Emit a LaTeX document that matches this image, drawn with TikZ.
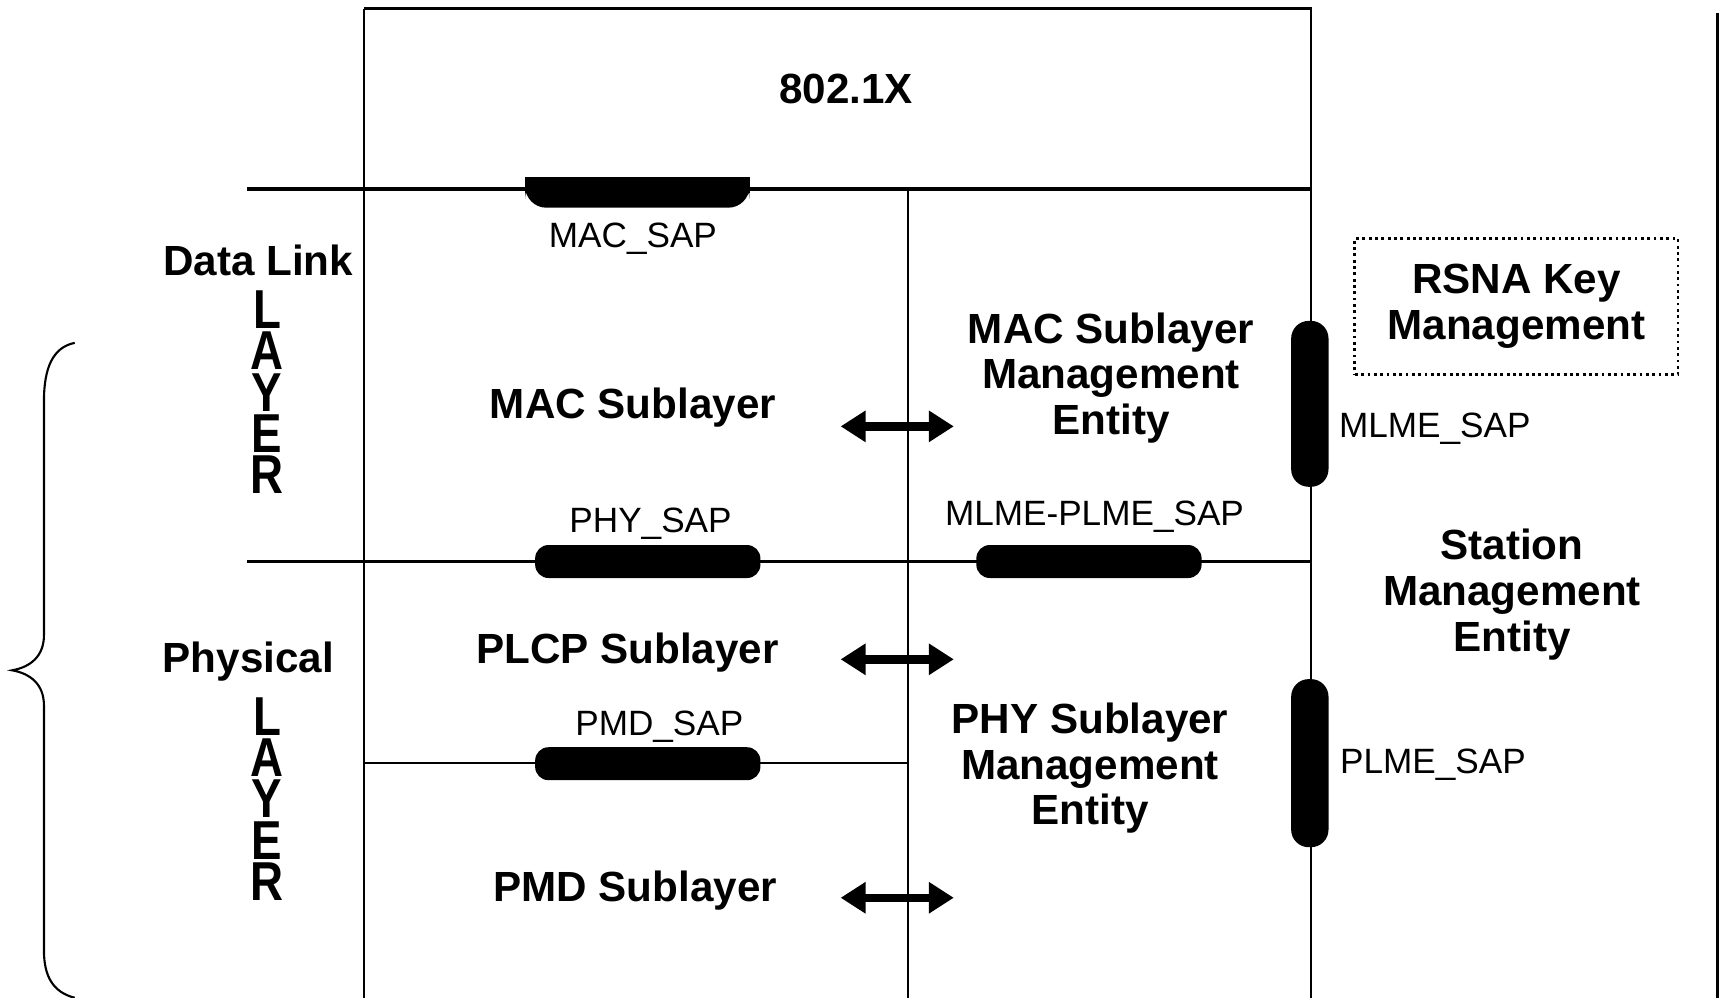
\documentclass[tikz,border=0pt]{standalone}
\usepackage{fontspec}
\setmainfont{Liberation Sans}
\usetikzlibrary{arrows.meta}
\def\upx{0.010989cm}
\begin{document}
\begin{tikzpicture}[x=0.010989cm,y=-0.010989cm,
  ln/.style={line width=0.6pt},
  bfl/.style={font=\bfseries\fontsize{12}{13}\selectfont, inner sep=0pt},
  rgl/.style={font=\fontsize{10}{12}\selectfont, inner sep=0pt},
  pill/.style={fill=black, draw=none, inner sep=0pt},
  hpill/.style={pill, rounded corners=3.8pt, minimum width={205*\upx}, minimum height={30*\upx}},
  vpill/.style={pill, rounded corners=5pt, minimum width={34*\upx}},
  dbl/.style={line width=2.4pt, {Triangle[length=0.25cm,width=0.3cm]}-{Triangle[length=0.25cm,width=0.3cm]}},
  layerlbl/.style={inner sep=0pt},
]
\useasboundingbox (0,0) rectangle (1568,908);
\fill[white] (0,0) rectangle (1568,908);

% frame lines
\draw[line width=0.8pt] (331,8) -- (1193,8) -- (1193,908);
\draw[ln] (331,8) -- (331,908);
\draw[line width=1pt] (225,172) -- (1193,172);
\draw[ln] (826,172) -- (826,908);
\draw[ln] (225,511) -- (1193,511);
\draw[ln] (331,694) -- (826,694);
\draw[ln] (1563,12) -- (1563,908);

% brace
\draw[line width=0.6pt] (68,312) .. controls (48,316) and (40,335) .. (40,365) -- (40,578)
  .. controls (40,597) and (28,607) .. (11,610) .. controls (28,613) and (40,623) .. (40,642)
  -- (40,865) .. controls (40,888) and (48,903) .. (68,908);

% SAP pills
\node[pill, rounded corners=6pt, minimum width={204*\upx}, minimum height={27*\upx}] (macsap) at (580,175.5) {};
\fill (macsap.north west) rectangle (macsap.east);
\node[hpill] (physap) at (589.5,511) {};
\node[hpill] (mlmeplmesap) at (991,511) {};
\node[hpill] (pmdsap) at (589.5,695) {};
\node[vpill, minimum height={151*\upx}] (mlmesap) at (1192,367.5) {};
\node[vpill, minimum height={153*\upx}] (plmesap) at (1192,694.5) {};

% arrows
\coordinate (a1l) at (765,388); \coordinate (a1r) at (868,388);
\coordinate (a2l) at (765,600); \coordinate (a2r) at (868,600);
\coordinate (a3l) at (765,817); \coordinate (a3r) at (868,817);
\draw[dbl] (a1l) -- (a1r);
\draw[dbl] (a2l) -- (a2r);
\draw[dbl] (a3l) -- (a3r);

% labels
\node[bfl, anchor=base] (x8021) at (770,94) {802.1X};
\node[rgl, anchor=base] (macsaplbl) at (576,225) {MAC\_SAP};
\node[bfl, anchor=base] (datalink) at (235,251) {Data Link};
\node[layerlbl] (dllayer) at (243,357) {\scalebox{1}[1.2]{\parbox{2em}{\centering\bfseries\fontsize{13}{9.8}\selectfont L\\A\\Y\\E\\R}}};
\node[bfl, anchor=base] (macsub) at (576,381) {MAC Sublayer};
\node[bfl, align=center] (mlme) at (1011,344) {MAC Sublayer\\Management\\Entity};
\node[bfl, align=center, draw, densely dotted, line width=0.8pt, minimum width={294*\upx}, minimum height={124*\upx}] (rsna) at (1380,279) {RSNA Key\\Management};
\node[rgl, anchor=base west] (mlmesaplbl) at (1218,398) {MLME\_SAP};
\node[rgl, anchor=base] (physaplbl) at (592,485) {PHY\_SAP};
\node[rgl, anchor=base] (mlmeplmelbl) at (996,478) {MLME-PLME\_SAP};
\node[bfl, align=center] (sme) at (1376,541) {Station\\Management\\Entity};
\node[bfl, anchor=base] (physical) at (226,612) {Physical};
\node[layerlbl] (phlayer) at (243,727) {\scalebox{1}[1.2]{\parbox{2em}{\centering\bfseries\fontsize{13}{9.8}\selectfont L\\A\\Y\\E\\R}}};
\node[bfl, anchor=base] (plcp) at (571,604) {PLCP Sublayer};
\node[rgl, anchor=base] (pmdsaplbl) at (600,669) {PMD\_SAP};
\node[bfl, align=center] (plme) at (992,699) {PHY Sublayer\\Management\\Entity};
\node[rgl, anchor=base west] (plmesaplbl) at (1219,704) {PLME\_SAP};
\node[bfl, anchor=base] (pmd) at (578,820) {PMD Sublayer};
\end{tikzpicture}
\end{document}
